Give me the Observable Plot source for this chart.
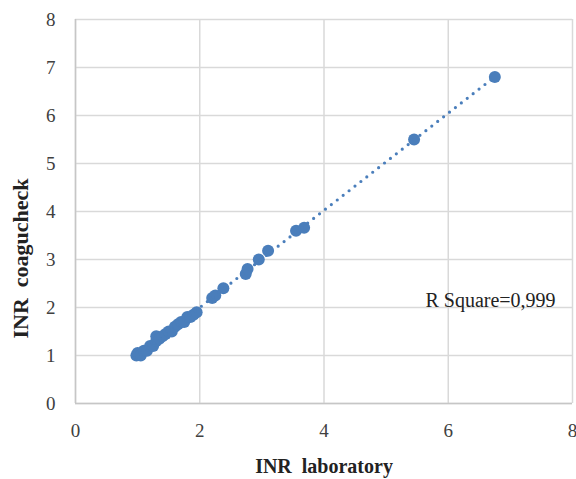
<!DOCTYPE html>
<html>
<head>
<meta charset="utf-8">
<script src="https://cdn.jsdelivr.net/npm/d3@7"></script>
<script src="https://cdn.jsdelivr.net/npm/@observablehq/plot@0.6"></script>
<style>
  html, body { margin: 0; padding: 0; background: #fff; }
  #chart svg { display: block; }
</style>
</head>
<body>
<div id="chart"></div>
<script>
// INR laboratory (x) vs INR coagucheck (y)
const inrLab = [0.98, 1.0, 1.05, 1.1, 1.15, 1.2, 1.25, 1.3, 1.3, 1.35, 1.4, 1.45, 1.5, 1.55, 1.6, 1.65, 1.7, 1.75, 1.8, 1.85, 1.9, 1.95,
                2.2, 2.25, 2.38, 2.74, 2.77, 2.95, 3.1, 3.55, 3.68, 5.45, 6.75];
const inrCoag = [1.0, 1.05, 1.0, 1.1, 1.1, 1.2, 1.2, 1.3, 1.4, 1.35, 1.4, 1.45, 1.5, 1.5, 1.6, 1.65, 1.7, 1.7, 1.8, 1.8, 1.85, 1.9,
                 2.2, 2.25, 2.4, 2.7, 2.8, 3.0, 3.18, 3.6, 3.66, 5.5, 6.8];
const xTicks = [0, 2, 4, 6, 8];
const yTicks = [0, 1, 2, 3, 4, 5, 6, 7, 8];
const xTitle = "INR  laboratory";
const yTitle = "INR  coagucheck";
const annotation = [{x: 6.68, y: 2.15, label: "R Square=0,999"}];

const data = inrLab.map((x, i) => ({x, y: inrCoag[i]}));
const blue = "#4a7ebb";

const chart = Plot.plot({
  width: 576,
  height: 479,
  marginTop: 19,
  marginLeft: 75,
  marginRight: 4,
  marginBottom: 76,
  style: {fontFamily: "'Liberation Serif', 'Times New Roman', serif", fontSize: "19px", background: "#fff", color: "#404040"},
  x: {domain: [0, 8]},
  y: {domain: [0, 8]},
  marks: [
    Plot.gridX(xTicks, {stroke: "#d9d9d9", strokeOpacity: 1, strokeWidth: 1.5}),
    Plot.gridY(yTicks, {stroke: "#d9d9d9", strokeOpacity: 1, strokeWidth: 1.5}),
    Plot.ruleX([0], {stroke: "#c6c6c6", strokeWidth: 1.5}),
    Plot.ruleY([0], {stroke: "#c6c6c6", strokeWidth: 1.5}),
    Plot.axisX(xTicks, {tickSize: 0, tickPadding: 20, label: null, fontSize: 19}),
    Plot.axisY(yTicks, {tickSize: 0, tickPadding: 20, label: null, fontSize: 19}),
    Plot.dot(data, {x: "x", y: "y", r: 6, fill: blue, stroke: null}),
    Plot.linearRegressionY(data, {x: "x", y: "y", ci: 0, stroke: blue, strokeWidth: 3.2, strokeDasharray: "0 7.5", strokeLinecap: "round"}),
    Plot.text(annotation, {x: "x", y: "y", text: "label", fontSize: 20, fill: "#222"}),
    Plot.text([xTitle], {frameAnchor: "bottom", textAnchor: "middle", lineAnchor: "middle", dy: 63, fontSize: 20, fontWeight: "bold", fill: "#222"}),
    Plot.text([yTitle], {frameAnchor: "left", textAnchor: "middle", lineAnchor: "middle", dx: -55, dy: 47, rotate: -90, fontSize: 22, fontWeight: "bold", fill: "#222"})
  ]
});
document.getElementById("chart").append(chart);
</script>
</body>
</html>
